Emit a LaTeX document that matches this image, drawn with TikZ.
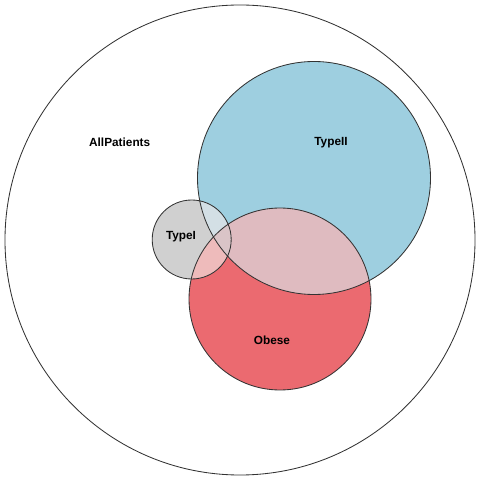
\documentclass[tikz,border=0pt]{standalone}
\usepackage{fontspec}
\setmainfont{Liberation Sans}
\usepackage{xcolor}
\usepackage{tikz}
\usetikzlibrary{positioning,calc}

\definecolor{typeiiblue}{RGB}{158,207,224}
\definecolor{obesered}{RGB}{235,106,112}
\definecolor{typeigray}{RGB}{208,208,208}
\definecolor{twoobese}{RGB}{223,187,192}
\definecolor{onetwo}{RGB}{211,223,229}
\definecolor{oneobese}{RGB}{238,187,187}
\definecolor{allthree}{RGB}{218,196,199}

\tikzset{
    outline/.style={draw=black!80, line width=0.6pt},
    setlabel/.style={font=\fontsize{8.4}{10}\selectfont\bfseries, anchor=base, inner sep=0pt}
}

\begin{document}
\begin{tikzpicture}[x=0.025cm, y=0.025cm]
    \useasboundingbox (0,0) rectangle (480,480);

    % Sets
    \def\allset{(240,240) circle (235)}
    \def\typeiiset{(314,302) circle (116.5)}
    \def\obeseset{(280,181) circle (91)}
    \def\typeiset{(191.7,240.5) circle (39.5)}

    % Single regions
    \fill[typeiiblue] \typeiiset;
    \fill[obesered] \obeseset;
    \fill[typeigray] \typeiset;

    % Overlaps
    \begin{scope}
        \clip \typeiiset;
        \fill[twoobese] \obeseset;
        \fill[onetwo] \typeiset;
    \end{scope}
    \begin{scope}
        \clip \obeseset;
        \fill[oneobese] \typeiset;
    \end{scope}
    \begin{scope}
        \clip \typeiiset;
        \clip \obeseset;
        \fill[allthree] \typeiset;
    \end{scope}

    % Outlines
    \draw[outline] \allset;
    \draw[outline] \typeiiset;
    \draw[outline] \obeseset;
    \draw[outline] \typeiset;

    % Labels
    \node[setlabel] (allpatients) at (119.7,333.5) {AllPatients};
    \node[setlabel] (typeii) at (331,334) {TypeII};
    \node[setlabel] (typei) at (181,240) {TypeI};
    \node[setlabel] (obese) at (272,135) {Obese};
\end{tikzpicture}
\end{document}
